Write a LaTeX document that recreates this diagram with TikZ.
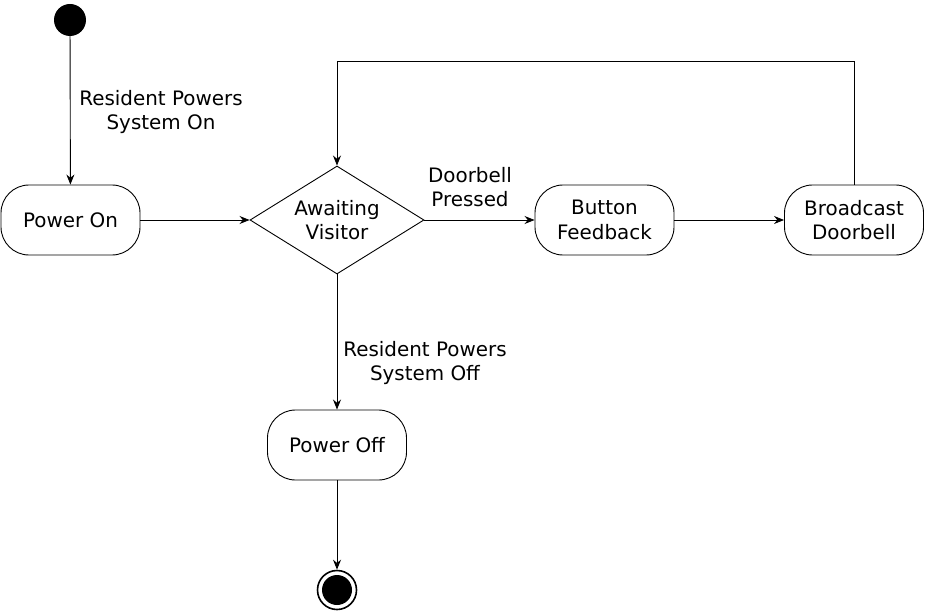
\documentclass[tikz,border=0pt]{standalone}
\usepackage{fontspec}
\setmainfont{DejaVu Sans}
\usetikzlibrary{shapes.geometric,arrows.meta}
\begin{document}
\begin{tikzpicture}[x=1pt,y=-1pt,
  every node/.style={font=\fontsize{19.9}{24.5}\selectfont},
  statebox/.style={draw, line width=0.9pt, rectangle, rounded corners=28pt, minimum width=139pt, minimum height=70pt, align=center, inner sep=0pt},
  lbl/.style={align=center, inner sep=0pt},
  conn/.style={draw, line width=0.9pt, -{Stealth[length=10pt,width=8pt]}}]
\useasboundingbox (0,0) rectangle (925,612);
\node[circle, fill=black, minimum size=32pt, inner sep=0pt] (init) at (70,20) {};
\node[statebox] (on) at (70.5,220) {Power On};
\node[draw, line width=0.9pt, diamond, aspect=1.61, minimum width=174pt, minimum height=108pt, inner sep=0pt, align=center] (wait) at (337,220) {Awaiting\\Visitor};
\node[statebox] (fb) at (604.5,220) {Button\\Feedback};
\node[statebox] (bc) at (854,220) {Broadcast\\Doorbell};
\node[statebox] (off) at (337,445) {Power Off};
\node[circle, draw, line width=1.6pt, minimum size=39pt, inner sep=0pt] (fin) at (337,590) {};
\node[circle, fill=black, minimum size=30pt, inner sep=0pt] (finin) at (337,590) {};
\coordinate (c1) at (854,61);
\coordinate (c2) at (337,61);
\node[lbl] (l1) at (161,112) {Resident Powers\\System On};
\node[lbl] (l2) at (470,187) {Doorbell\\Pressed};
\node[lbl] (l3) at (425,363) {Resident Powers\\System Off};
\draw[conn] (init) -- (on);
\draw[conn] (on) -- (wait);
\draw[conn] (wait) -- (fb);
\draw[conn] (fb) -- (bc);
\draw[conn] (bc.north) -- (c1) -- (c2) -- (wait.north);
\draw[conn] (wait) -- (off);
\draw[conn] (off) -- (fin);
\end{tikzpicture}
\end{document}
